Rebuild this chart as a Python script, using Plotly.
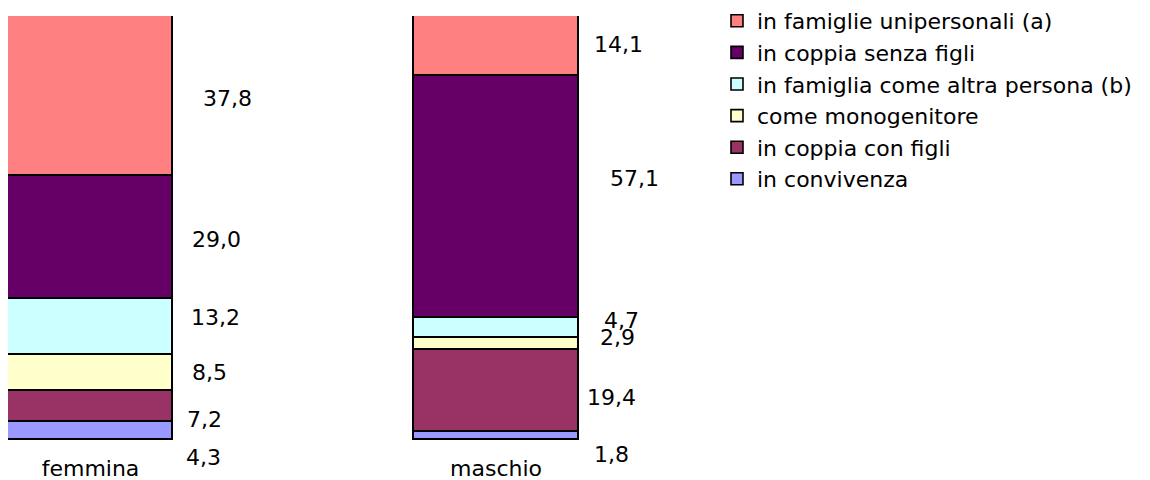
import plotly.graph_objects as go

categories = ["femmina", "maschio"]
series_names = [
    "in convivenza",
    "in coppia con figli",
    "come monogenitore",
    "in famiglia come altra persona (b)",
    "in coppia senza figli",
    "in famiglie unipersonali (a)",
]
femmina = [4.3, 7.2, 8.5, 13.2, 29.0, 37.8]
maschio = [1.8, 19.4, 2.9, 4.7, 57.1, 14.1]
colors = ["#9999FF", "#993366", "#FFFFCC", "#CCFFFF", "#660066", "#FF8080"]

# label placement tweaks (pixels): horizontal gap from bar edge, vertical shift
label_dx = {
    0: [13, 14, 19, 18, 19, 30],
    1: [15, 8, 21, 25, 31, 15],
}
label_dy = {
    0: [27, 12.5, -1, -10, 2, 2],
    1: [18, 6, -6, -7, -18, -1],
}

FONT = "DejaVu Sans, Verdana, sans-serif"
FS = 22
bar_w = 0.407
xpos = [0, 1]

fig = go.Figure()
values_by_cat = [femmina, maschio]
for s, name in enumerate(series_names):
    fig.add_trace(go.Bar(
        x=xpos,
        y=[values_by_cat[0][s], values_by_cat[1][s]],
        name=name,
        width=bar_w,
        marker=dict(color=colors[s], line=dict(color="#000000", width=1.6)),
        hoverinfo="name+y",
    ))

annotations = []
for ci, vals in enumerate(values_by_cat):
    cum = 0.0
    for s, v in enumerate(vals):
        center = cum + v / 2.0
        cum += v
        annotations.append(dict(
            x=xpos[ci] + bar_w / 2, y=center, xref="x", yref="y",
            text=f"{v:.1f}".replace(".", ","),
            showarrow=False, xanchor="left", yanchor="middle",
            xshift=label_dx[ci][s] - 2, yshift=-label_dy[ci][s],
            font=dict(family=FONT, size=FS, color="#000000"),
        ))

fig.update_layout(
    width=1150, height=480,
    barmode="stack",
    paper_bgcolor="white", plot_bgcolor="white",
    margin=dict(l=8, r=450, t=16, b=40, pad=0, autoexpand=False),
    font=dict(family=FONT, size=FS, color="#000000"),
    showlegend=True,
    legend=dict(
        traceorder="reversed",
        xref="container", yref="container",
        x=717 / 1150, y=1,
        xanchor="left", yanchor="top",
        font=dict(family=FONT, size=FS, color="#000000"),
        bgcolor="rgba(0,0,0,0)",
    ),
    annotations=annotations,
    bargap=0,
)
fig.update_xaxes(
    range=[-bar_w / 2, -bar_w / 2 + 692 / 405.5],
    tickvals=xpos, ticktext=categories,
    showgrid=False, zeroline=False, showline=False, ticks="",
    ticklabelstandoff=13, automargin=False,
    tickfont=dict(family=FONT, size=FS, color="#000000"),
)
fig.update_yaxes(
    range=[0, 100], visible=False, showgrid=False, zeroline=False, automargin=False,
)

fig.write_html(
    "out.html",
    config={"displayModeBar": False},
    post_script="document.body.style.margin='0';document.body.style.padding='0';",
)
